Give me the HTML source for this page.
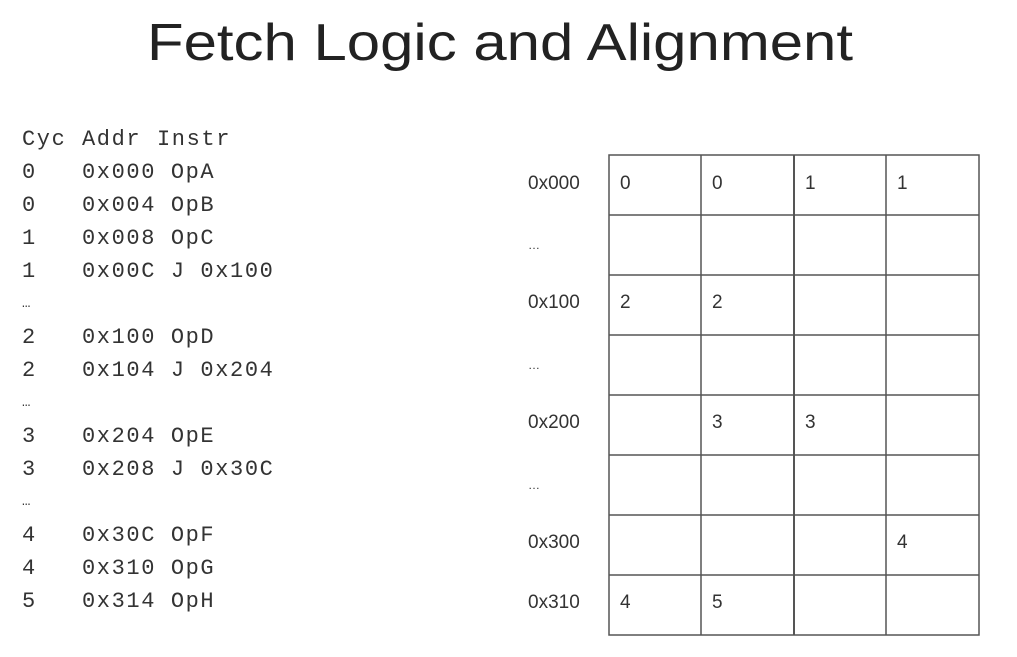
<!DOCTYPE html>
<html><head><meta charset="utf-8"><style>
html,body{margin:0;padding:0;background:#fff;}
svg{display:block;}
.m{font-family:"Liberation Mono",monospace;font-size:22px;letter-spacing:1.6px;fill:#333;}
.s{font-family:"Liberation Sans",sans-serif;font-size:19px;fill:#333;}
</style></head><body>
<svg width="1017" height="657" viewBox="0 0 1017 657">
<rect width="1017" height="657" fill="#fff"/>
<text x="147" y="60" font-family="Liberation Sans, sans-serif" font-size="52" fill="#222" textLength="706" lengthAdjust="spacingAndGlyphs">Fetch Logic and Alignment</text>
<g class="m">
<text x="22" y="145">Cyc</text><text x="82" y="145">Addr</text><text x="157" y="145">Instr</text>
<text x="22" y="178">0</text><text x="82" y="178">0x000 OpA</text>
<text x="22" y="211">0</text><text x="82" y="211">0x004 OpB</text>
<text x="22" y="244">1</text><text x="82" y="244">0x008 OpC</text>
<text x="22" y="277">1</text><text x="82" y="277">0x00C J 0x100</text>
<text x="22" y="307" font-size="14" letter-spacing="0">…</text>
<text x="22" y="343">2</text><text x="82" y="343">0x100 OpD</text>
<text x="22" y="376">2</text><text x="82" y="376">0x104 J 0x204</text>
<text x="22" y="406" font-size="14" letter-spacing="0">…</text>
<text x="22" y="442">3</text><text x="82" y="442">0x204 OpE</text>
<text x="22" y="475">3</text><text x="82" y="475">0x208 J 0x30C</text>
<text x="22" y="505" font-size="14" letter-spacing="0">…</text>
<text x="22" y="541">4</text><text x="82" y="541">0x30C OpF</text>
<text x="22" y="574">4</text><text x="82" y="574">0x310 OpG</text>
<text x="22" y="607">5</text><text x="82" y="607">0x314 OpH</text>
</g>
<g stroke="#555" stroke-width="1.5" fill="none">
<rect x="609" y="155" width="370" height="480"/>
<line x1="701" y1="155" x2="701" y2="635"/>
<line x1="794" y1="155" x2="794" y2="635" stroke-width="2"/>
<line x1="886" y1="155" x2="886" y2="635"/>
<line x1="609" y1="215" x2="979" y2="215"/>
<line x1="609" y1="275" x2="979" y2="275"/>
<line x1="609" y1="335" x2="979" y2="335"/>
<line x1="609" y1="395" x2="979" y2="395"/>
<line x1="609" y1="455" x2="979" y2="455"/>
<line x1="609" y1="515" x2="979" y2="515"/>
<line x1="609" y1="575" x2="979" y2="575"/>
</g>
<g class="s">
<text x="528" y="189">0x000</text>
<text x="528" y="249" font-size="12">…</text>
<text x="528" y="308">0x100</text>
<text x="528" y="369" font-size="12">…</text>
<text x="528" y="428">0x200</text>
<text x="528" y="489" font-size="12">…</text>
<text x="528" y="548">0x300</text>
<text x="528" y="608">0x310</text>
<text x="620" y="189">0</text><text x="712" y="189">0</text><text x="805" y="189">1</text><text x="897" y="189">1</text>
<text x="620" y="308">2</text><text x="712" y="308">2</text>
<text x="712" y="428">3</text><text x="805" y="428">3</text>
<text x="897" y="548">4</text>
<text x="620" y="608">4</text><text x="712" y="608">5</text>
</g>
</svg>
</body></html>
